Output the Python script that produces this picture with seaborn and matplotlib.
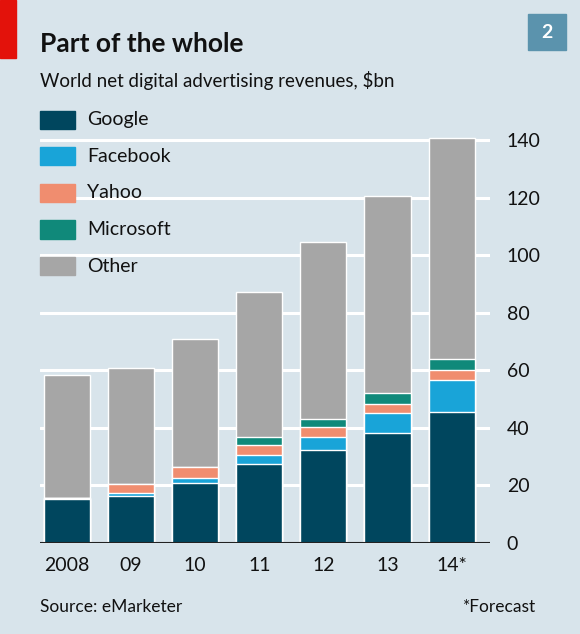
import numpy as np
import pandas as pd
import matplotlib.pyplot as plt
import seaborn as sns
from matplotlib.patches import Rectangle

years = ["2008", "09", "10", "11", "12", "13", "14*"]
google = [15.2, 16.5, 20.8, 27.6, 32.5, 38.1, 45.4]
facebook = [0.3, 0.8, 1.7, 3.1, 4.2, 7.0, 11.1]
yahoo = [0.0, 3.3, 3.8, 3.4, 3.5, 3.2, 3.5]
microsoft = [0.0, 0.0, 0.0, 2.7, 2.9, 3.7, 4.0]
total = [58.3, 60.9, 70.9, 87.1, 104.8, 120.5, 140.8]

series = ["Google", "Facebook", "Yahoo", "Microsoft", "Other"]
colors = ["#00465e", "#19a4d8", "#f08d6f", "#10897a", "#a6a6a6"]
bg = "#d8e4eb"

df = pd.DataFrame({"year": years, "Google": google, "Facebook": facebook,
                   "Yahoo": yahoo, "Microsoft": microsoft})
df["Other"] = np.array(total) - df[series[:4]].sum(axis=1)

sns.set_style("white")
plt.rcParams["font.family"] = ["Lato", "DejaVu Sans"]

fig = plt.figure(figsize=(5.8, 6.34), dpi=100, facecolor=bg)
ax = fig.add_axes([0.069, 0.1435, 0.776, 0.658], facecolor=bg)

# stacked bars: draw cumulative totals from top series down
cum = df[series].cumsum(axis=1)
for name, col in zip(reversed(series), reversed(colors)):
    sns.barplot(x=df["year"], y=cum[name], color=col, width=0.72,
                saturation=1, ax=ax, zorder=2)

ax.set_ylim(0, 145)
ax.set_xlim(-0.42, 6.6)
ax.set_yticks(range(0, 141, 20))
ax.yaxis.tick_right()
ax.tick_params(axis="y", length=0, labelsize=14, pad=12, colors="#111111")
ax.tick_params(axis="x", length=0, labelsize=14, pad=10, colors="#111111")
ax.set_xlabel("")
ax.set_ylabel("")
for y in range(20, 141, 20):
    ax.axhline(y, color="white", lw=2.2, zorder=1)
for s in ax.spines.values():
    s.set_visible(False)
ax.axhline(0, color="#222222", lw=1.5, zorder=3)

# header
fig.patches.append(Rectangle((0, 1 - 58 / 634), 16 / 580, 58 / 634,
                             transform=fig.transFigure, color="#e3120b"))
fig.patches.append(Rectangle((528 / 580, 1 - 50 / 634), 38 / 580, 36 / 634,
                             transform=fig.transFigure, color="#5b93ad"))
fig.text(547 / 580, 1 - 32 / 634, "2", color="white", fontsize=14,
         fontweight="bold", ha="center", va="center")
fig.text(40 / 580, 1 - 44 / 634, "Part of the whole", fontsize=19,
         fontweight="bold", va="center", color="#111111")
fig.text(40 / 580, 1 - 80 / 634, "World net digital advertising revenues, $bn",
         fontsize=13.5, va="center", color="#111111")

# legend
for i, (name, col) in enumerate(zip(series, colors)):
    yc = 120 + 36.5 * i
    fig.patches.append(Rectangle((40 / 580, 1 - (yc + 9) / 634), 35 / 580, 18 / 634,
                                 transform=fig.transFigure, color=col))
    fig.text(87 / 580, 1 - yc / 634, name, fontsize=14, va="center", color="#111111")

fig.text(40 / 580, 1 - 607 / 634, "Source: eMarketer", fontsize=12.5,
         va="center", color="#111111")
fig.text(536 / 580, 1 - 607 / 634, "*Forecast", fontsize=12.5,
         va="center", ha="right", color="#111111")

fig.savefig("out.png", dpi=100, facecolor=bg)
